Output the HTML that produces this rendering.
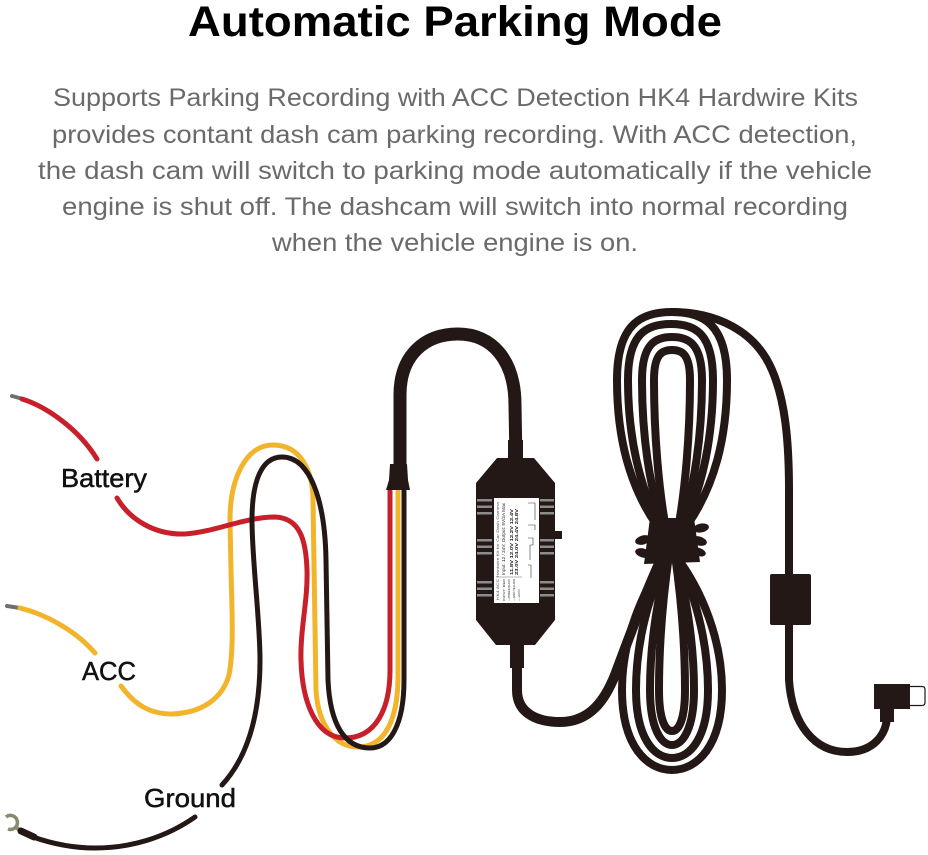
<!DOCTYPE html>
<html>
<head>
<meta charset="utf-8">
<style>
  html,body{margin:0;padding:0;background:#fff;}
  body{width:928px;height:855px;overflow:hidden;}
  svg{display:block;}
</style>
</head>
<body>
<svg width="928" height="855" viewBox="0 0 928 855" xmlns="http://www.w3.org/2000/svg">
  <rect width="928" height="855" fill="#fff"/>

  <!-- Title -->
  <text x="188" y="36" font-family="Liberation Sans, Arial, sans-serif" font-weight="bold" font-size="43" fill="#000" textLength="534" lengthAdjust="spacingAndGlyphs">Automatic Parking Mode</text>

  <!-- Paragraph -->
  <g font-family="Liberation Sans, Arial, sans-serif" font-size="25" fill="#6a6a6a">
    <text x="53" y="106" textLength="805" lengthAdjust="spacingAndGlyphs">Supports Parking Recording with ACC Detection HK4 Hardwire Kits</text>
    <text x="52" y="143" textLength="805" lengthAdjust="spacingAndGlyphs">provides contant dash cam parking recording. With ACC detection,</text>
    <text x="38" y="179" textLength="834" lengthAdjust="spacingAndGlyphs">the dash cam will switch to parking mode automatically if the vehicle</text>
    <text x="62" y="215" textLength="786" lengthAdjust="spacingAndGlyphs">engine is shut off. The dashcam will switch into normal recording</text>
    <text x="272" y="251" textLength="366" lengthAdjust="spacingAndGlyphs">when the vehicle engine is on.</text>
  </g>

  <!-- ===== Colored wires ===== -->
  <g fill="none" stroke-linecap="round" stroke-linejoin="round">
    <line x1="12" y1="396" x2="23" y2="399" stroke="#6f6f6f" stroke-width="4"/>
    <line x1="7" y1="606" x2="20" y2="608" stroke="#6f6f6f" stroke-width="4"/>

    <!-- Yellow (ACC) -->
    <path d="M20,608 C45,614 75,630 95,653" stroke="#f1b42a" stroke-width="5"/>
    <path d="M121,686 C135,705 150,714 172,714 C200,713 222,700 229,675 C234,650 232,610 231,570 L230,520 C230,480 245,445 273,445 C300,445 313,470 313,500 L316,690 C318,725 335,747 358,747 C385,747 397,720 398,680 L398,491" stroke="#f1b42a" stroke-width="5"/>

    <!-- Red (Battery) -->
    <path d="M22,399 C45,406 78,428 97,459" stroke="#c8202b" stroke-width="5"/>
    <path d="M117,498 C130,520 155,535 185,534 C215,532 245,517 275,517 C300,518 306,540 307,570 C308,600 300,630 301,660 C302,700 315,738 345,738 C375,738 390,710 390,670 L390,491" stroke="#c8202b" stroke-width="5"/>

    <!-- Black (Ground) -->
    <path d="M404,491 L404,680 C404,725 390,748 370,748 C345,748 330,725 328,680 L326,560 C325,500 310,457 282,457 C262,457 252,480 252,520 C252,560 260,620 260,660 C260,720 245,760 222,785" stroke="#231816" stroke-width="5"/>
    <path d="M195,817 C165,838 130,848 95,848 C70,848 50,843 33,837" stroke="#231816" stroke-width="5"/>
  </g>

  <!-- ring terminal + ferrule -->
  <path d="M6,817 A7,7 0 1 1 8,829" fill="none" stroke="#8a8a70" stroke-width="3.5"/>
  <line x1="15" y1="827" x2="22" y2="831" stroke="#8a8a70" stroke-width="4"/>
  <line x1="21" y1="831" x2="34" y2="837" stroke="#231816" stroke-width="7" stroke-linecap="round"/>

  <!-- Labels -->
  <g font-family="Liberation Sans, Arial, sans-serif" font-size="26" fill="#111" stroke="#111" stroke-width="0.5">
    <text x="61" y="487" textLength="86" lengthAdjust="spacingAndGlyphs">Battery</text>
    <text x="82" y="680" textLength="54" lengthAdjust="spacingAndGlyphs">ACC</text>
    <text x="144" y="807" textLength="92" lengthAdjust="spacingAndGlyphs">Ground</text>
  </g>

  <!-- ===== Black cable: connector to box ===== -->
  <path d="M400,466 L400,395 C400,355 425,334 458,334 C492,334 515,360 515,405 L516,462" fill="none" stroke="#231816" stroke-width="13"/>
  <polygon points="390,464 407,464 408,480 410,490 386,490 389,480" fill="#231816"/>

  <!-- box to coil cable -->
  <path d="M517,650 L517,690 C517,715 540,722 560,722 C590,722 605,700 615,675 C630,635 650,580 668,545" fill="none" stroke="#231816" stroke-width="10"/>
  <rect x="510" y="640" width="14" height="28" fill="#231816"/>
  <rect x="508" y="440" width="15" height="20" fill="#231816"/>

  <!-- Box -->
  <polygon points="497,458 534,458 555,483 555,620 535,645 496,645 476,620 476,483" fill="#231816"/>
  <rect x="554" y="531" width="8" height="8" fill="#231816"/>
  <g fill="#8c8c8c">
    <rect x="477" y="499" width="15" height="2.5"/>
    <rect x="477" y="505.5" width="15" height="2.5"/>
    <rect x="477" y="512" width="15" height="2.5"/>
    <rect x="477" y="539" width="15" height="2.5"/>
    <rect x="477" y="545.5" width="15" height="2.5"/>
    <rect x="477" y="552" width="15" height="2.5"/>
    <rect x="477" y="581" width="15" height="2.5"/>
    <rect x="477" y="587.5" width="15" height="2.5"/>
    <rect x="477" y="594" width="15" height="2.5"/>
    <rect x="540" y="499" width="14" height="2.5"/>
    <rect x="540" y="505.5" width="14" height="2.5"/>
    <rect x="540" y="512" width="14" height="2.5"/>
    <rect x="540" y="539" width="14" height="2.5"/>
    <rect x="540" y="545.5" width="14" height="2.5"/>
    <rect x="540" y="552" width="14" height="2.5"/>
    <rect x="540" y="581" width="14" height="2.5"/>
    <rect x="540" y="587.5" width="14" height="2.5"/>
    <rect x="540" y="594" width="14" height="2.5"/>
  </g>
  <rect x="494" y="498" width="45" height="105" fill="#fff"/>
  <g transform="translate(494,603) rotate(-90)" font-family="Liberation Sans, Arial, sans-serif" fill="#222">
    <text x="3" y="5" font-size="3.4" fill="#555" textLength="98" lengthAdjust="spacingAndGlyphs">HK4 ACC Hardwire Kit for Car Dash Camera</text>
    <text x="28" y="11" font-size="4.2" textLength="72" lengthAdjust="spacingAndGlyphs">Input: 12 / 24V; Output: 5V/2A Max</text>
    <text x="28" y="19" font-size="4.4" font-weight="bold" textLength="66" lengthAdjust="spacingAndGlyphs">11.8V 12.0V 12.2V 12.4V</text>
    <text x="28" y="24" font-size="4.4" font-weight="bold" textLength="66" lengthAdjust="spacingAndGlyphs">23.0V 24.0V 24.4V 24.8V</text>
    <text x="2" y="11" font-size="3" textLength="22" lengthAdjust="spacingAndGlyphs">INPUT: RED</text>
    <text x="2" y="16" font-size="3" textLength="22" lengthAdjust="spacingAndGlyphs">—POWER BLACK</text>
    <text x="2" y="21" font-size="3" textLength="22" lengthAdjust="spacingAndGlyphs">—GND YELLOW</text>
    <text x="2" y="26" font-size="3" textLength="12" lengthAdjust="spacingAndGlyphs">—ACC</text>
    <line x1="26" y1="2" x2="26" y2="28" stroke="#444" stroke-width="0.4"/>
  </g>
  <g fill="none" stroke="#333" stroke-width="0.6">
    <path d="M528,503 L535,503 L535,520"/>
    <path d="M528,525 L535,525 L535,530"/>
    <path d="M528,538 L533,538 L533,545 L530,545 L530,560"/>
    <path d="M528,565 L531,565 L531,578"/>
  </g>

  <!-- ===== Coil ===== -->
  <g fill="none" stroke="#231816" stroke-width="8">
    <path d="M668,540 C658,490 654,430 654,380 C654,354 662,350 672,350 C682,350 690,354 690,380 C690,430 686,490 676,540"/>
    <path d="M668,540 C648,490 642,430 642,380 C642,343 656,337 672,337 C688,337 702,343 702,380 C702,430 696,490 676,540"/>
    <path d="M668,540 C637,490 628,430 628,380 C628,333 647,324 671,324 C695,324 713,333 713,380 C713,430 705,490 676,540"/>
    <path d="M668,540 C626,490 617,430 617,380 C617,323 642,312 672,312 C702,312 727,323 727,380 C727,430 718,490 676,540"/>
    <path d="M669,555 C664,590 659,640 659,690 C659,719 665,731 672,731 C679,731 685,719 685,690 C685,640 680,590 675,555"/>
    <path d="M669,555 C659,590 650,640 650,690 C650,728 661,745 672,745 C683,745 694,728 694,690 C694,640 685,590 675,555"/>
    <path d="M669,555 C650,590 636,640 636,690 C636,738 654,758 672,758 C690,758 708,738 708,690 C708,640 694,590 675,555"/>
    <path d="M669,555 C642,590 622,640 622,690 C622,746 647,770 672,770 C697,770 722,746 722,690 C722,640 702,590 675,555"/>
    <path d="M672,312 C715,312 755,330 772,370 C785,400 789,440 789,490 L789,580"/>
    <path d="M789,620 L789,680 C792,725 815,752 847,752 C873,752 887,735 887,715"/>
  </g>
  <!-- pinch / tie -->
  <polygon points="650,518 694,518 700,562 644,564" fill="#231816"/>
  <g fill="#231816">
    <ellipse cx="643" cy="540" rx="8" ry="4.5" transform="rotate(-15 643 540)"/>
    <ellipse cx="643" cy="553" rx="8" ry="4.5" transform="rotate(15 643 553)"/>
    <ellipse cx="701" cy="528" rx="8" ry="4.5" transform="rotate(-10 701 528)"/>
    <ellipse cx="699" cy="541" rx="8" ry="4.5" transform="rotate(15 699 541)"/>
    <ellipse cx="699" cy="552" rx="7" ry="4" transform="rotate(20 699 552)"/>
  </g>

  <rect x="770" y="574" width="41" height="51" rx="2" fill="#231816"/>

  <rect x="880" y="704" width="14" height="18" fill="#231816"/>
  <rect x="874" y="684" width="36" height="25" fill="#231816"/>
  <path d="M910,686.5 L922,686.5 Q925,686.5 925,689.5 L925,702.5 Q925,705.5 922,705.5 L910,705.5" fill="#fff" stroke="#231816" stroke-width="1.2"/>
</svg>
</body>
</html>
